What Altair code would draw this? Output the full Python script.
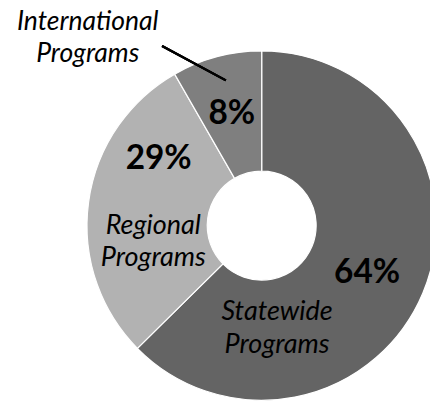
import altair as alt
import pandas as pd

# ---- data ----
categories = ["Statewide Programs", "Regional Programs", "International Programs"]
shares = [62.6, 29.1, 8.3]          # slice sizes as drawn
pct_labels = ["64%", "29%", "8%"]   # printed labels
name_labels = ["Statewide\nPrograms", "Regional\nPrograms", "International\nPrograms"]
slice_colors = ["#646464", "#b2b2b2", "#7f7f7f"]

df = pd.DataFrame({
    "category": categories,
    "share": shares,
    "pct": pct_labels,
    "name": name_labels,
    "rank": list(range(len(categories))),
})

CX, CY = 258.5, 218.0
FONT = "Lato"
theta_scale = alt.Scale(domain=[0, 1])

base = (
    alt.Chart(df)
    .transform_joinaggregate(total="sum(share)")
    .transform_window(cum="sum(share)", sort=[alt.SortField("rank")])
    .transform_calculate(
        f0="(datum.cum - datum.share) / datum.total",
        f1="datum.cum / datum.total",
        fm="(datum.cum - datum.share / 2) / datum.total",
    )
)

arc = base.mark_arc(innerRadius=55.5, outerRadius=178, stroke="white", strokeWidth=1.2).encode(
    theta=alt.Theta("f0:Q", scale=theta_scale),
    theta2="f1:Q",
    color=alt.Color("category:N", scale=alt.Scale(domain=categories, range=slice_colors), legend=None),
    x=alt.value(CX),
    y=alt.value(CY),
)


def label(cat, field, radius, dx, dy, bold, size=27.5):
    props = dict(
        radius=radius, dx=dx, dy=dy, align="center", baseline="middle",
        font=FONT, color="black", lineBreak="\n",
    )
    if bold:
        props.update(fontSize=34, fontWeight="bold")
    else:
        props.update(fontSize=size, fontStyle="italic", lineHeight=33)
    return (
        base.transform_filter(alt.datum.category == cat)
        .mark_text(**props)
        .encode(
            theta=alt.Theta("fm:Q", scale=theta_scale),
            text=alt.Text(f"{field}:N"),
            x=alt.value(CX),
            y=alt.value(CY),
        )
    )


layers = [
    arc,
    label("Statewide Programs", "pct", 118, -1.5, 3, True),
    label("Regional Programs", "pct", 113, 7, -52, True),
    label("International Programs", "pct", 114, -1, -3, True),
    label("Statewide Programs", "name", 56, -36, 67, False),
    label("Regional Programs", "name", 107, -4.5, 14.5, False),
    label("International Programs", "name", 228, -118.5, 13, False, 27),
]

leader = alt.Chart(df).mark_rule(color="black", strokeWidth=2.2).encode(
    x=alt.value(157), y=alt.value(35), x2=alt.value(222), y2=alt.value(70)
)

chart = (
    alt.layer(*layers, leader)
    .properties(width=430, height=394, autosize=alt.AutoSizeParams(type="none"), padding=0)
    .configure_view(stroke=None)
)

chart.save("out.html", embed_options={"renderer": "svg", "actions": False})
